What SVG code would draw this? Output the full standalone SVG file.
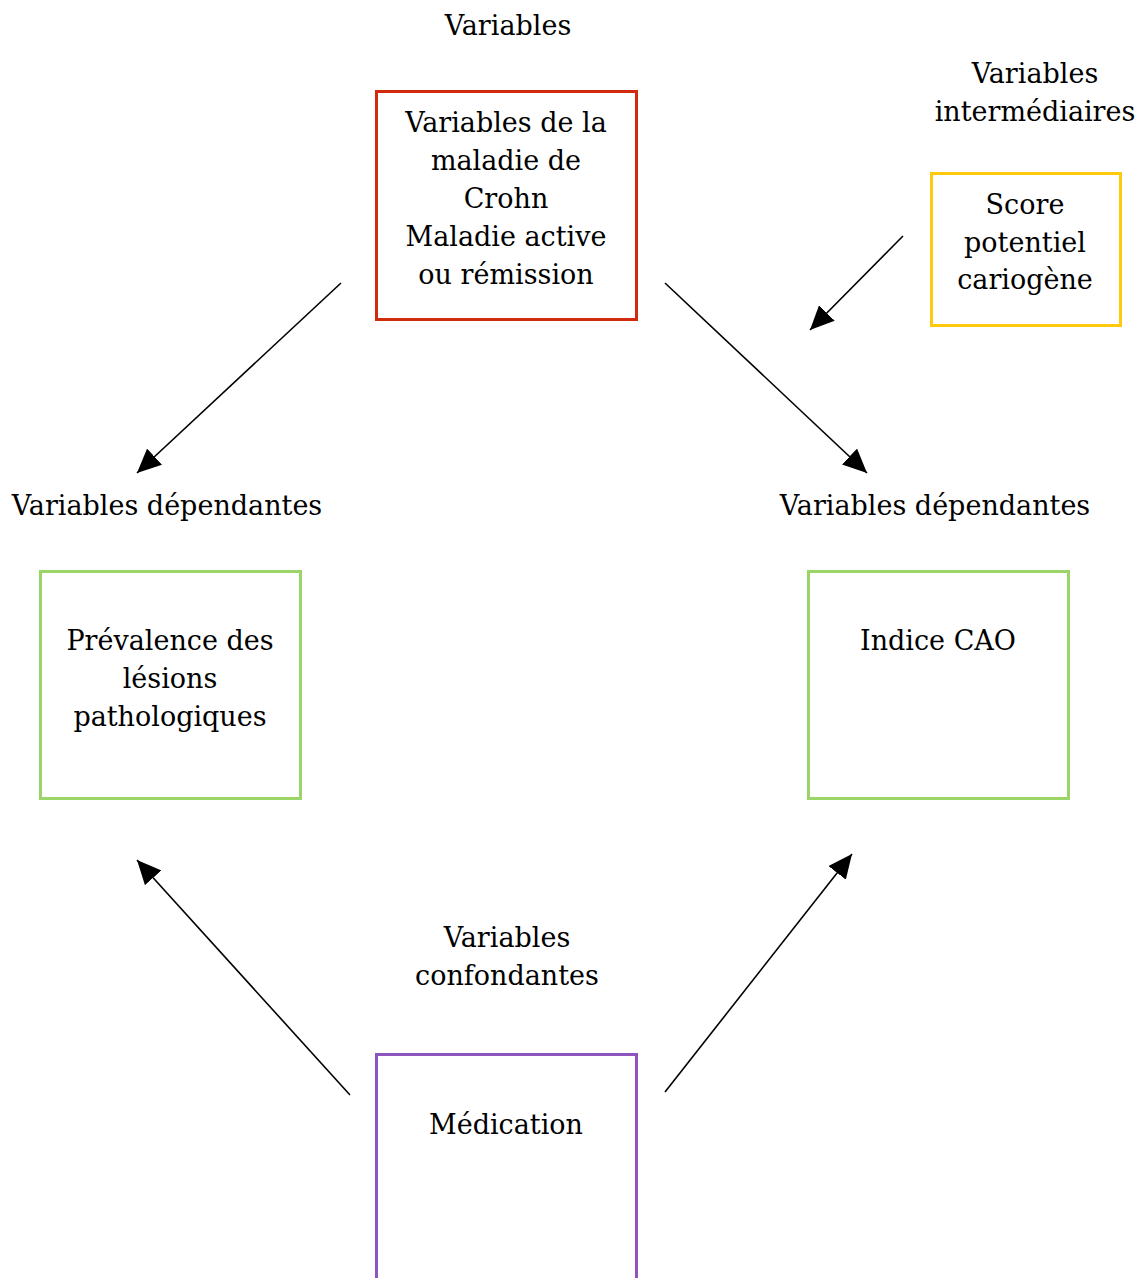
<svg xmlns="http://www.w3.org/2000/svg" width="1147" height="1278" viewBox="0 0 1147 1278">
<style>
text{font-family:"DejaVu Serif","Liberation Serif",serif;font-size:27px;fill:#000;text-anchor:middle}
.box{fill:#fff;stroke-width:3}
.conn line{stroke:#000;stroke-width:1.6;fill:none}
</style>
<defs>
<marker id="ah" markerUnits="userSpaceOnUse" markerWidth="26" markerHeight="22" refX="24" refY="11" orient="auto">
<path d="M0,0 L24,11 L0,22 Z" fill="#000"/>
</marker>
</defs>
<rect width="1147" height="1278" fill="#fff"/>
<text x="508" y="35">Variables</text>
<text x="1035" y="83">Variables</text>
<text x="1035" y="121">intermédiaires</text>
<text x="167" y="515">Variables dépendantes</text>
<text x="935" y="515">Variables dépendantes</text>
<text x="507" y="947">Variables</text>
<text x="507" y="985">confondantes</text>
<g id="crohn">
<rect class="box" x="376.5" y="91.5" width="260" height="228" stroke="#D22A0C"/>
<text x="506" y="132">Variables de la</text>
<text x="506" y="170">maladie de</text>
<text x="506" y="208">Crohn</text>
<text x="506" y="246">Maladie active</text>
<text x="506" y="284">ou rémission</text>
</g>
<g id="score">
<rect class="box" x="931.5" y="173.5" width="189" height="152" stroke="#FFC90E"/>
<text x="1025" y="214">Score</text>
<text x="1025" y="252">potentiel</text>
<text x="1025" y="289">cariogène</text>
</g>
<g id="prevalence">
<rect class="box" x="40.5" y="571.5" width="260" height="227" stroke="#9BD567"/>
<text x="170" y="650">Prévalence des</text>
<text x="170" y="688">lésions</text>
<text x="170" y="726">pathologiques</text>
</g>
<g id="cao">
<rect class="box" x="808.5" y="571.5" width="260" height="227" stroke="#9BD567"/>
<text x="938" y="650">Indice CAO</text>
</g>
<g id="medication">
<rect class="box" x="376.5" y="1054.5" width="260" height="240" stroke="#8E55BE"/>
<text x="506" y="1134">Médication</text>
</g>
<g id="connectors" class="conn">
<line x1="341" y1="283" x2="137" y2="473" marker-end="url(#ah)"/>
<line x1="665" y1="283" x2="867" y2="473" marker-end="url(#ah)"/>
<line x1="903" y1="236" x2="810" y2="330" marker-end="url(#ah)"/>
<line x1="350" y1="1095" x2="137" y2="860" marker-end="url(#ah)"/>
<line x1="665" y1="1092" x2="852" y2="854" marker-end="url(#ah)"/>
</g>
</svg>
